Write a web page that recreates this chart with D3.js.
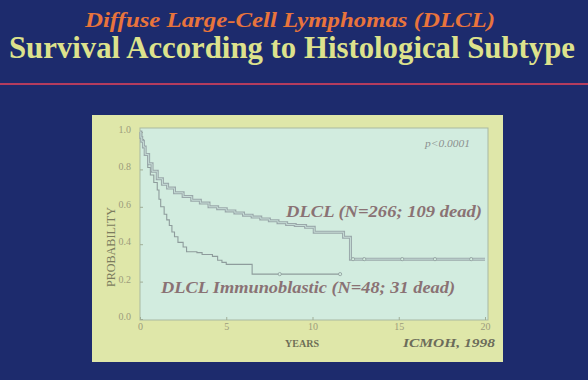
<!DOCTYPE html>
<html><head><meta charset="utf-8">
<script src="https://cdn.jsdelivr.net/npm/d3@7"></script>
<style>html,body{margin:0;padding:0;background:#1d2b6b;overflow:hidden}</style>
</head><body>
<script>
const titleTop = "Diffuse Large-Cell Lymphomas (DLCL)";
const titleMain = "Survival According to Histological Subtype";
const yTicks = [0, 0.2, 0.4, 0.6, 0.8, 1.0];
const xTicks = [0, 5, 10, 15, 20];
const dlclTime = [0, 0.05, 0.1, 0.2, 0.3, 0.5, 0.7, 1.0, 1.3, 1.6, 2.0, 2.5, 3.0, 3.5, 4.0, 4.5, 5.0, 5.5, 6.0, 6.5, 7.0, 7.5, 8.0, 8.5, 9.0, 9.6, 10.1, 11.8, 12.2, 20];
const dlclSurv = [1.0, 0.97, 0.95, 0.92, 0.88, 0.83, 0.79, 0.75, 0.72, 0.70, 0.675, 0.655, 0.635, 0.62, 0.60, 0.59, 0.578, 0.567, 0.555, 0.545, 0.535, 0.525, 0.515, 0.505, 0.50, 0.49, 0.464, 0.437, 0.32, 0.32];
const dlclCensor = [12.35, 13.0, 15.2, 17.1, 19.2];
const immTime = [0, 0.1, 0.2, 0.3, 0.45, 0.6, 0.8, 1.0, 1.1, 1.2, 1.4, 1.55, 1.7, 1.85, 2.0, 2.2, 2.5, 2.7, 3.3, 3.6, 4.2, 4.5, 4.75, 5.0, 6.5, 11.6];
const immSurv = [1.0, 0.96, 0.92, 0.875, 0.81, 0.77, 0.73, 0.69, 0.64, 0.60, 0.56, 0.53, 0.50, 0.465, 0.44, 0.41, 0.385, 0.36, 0.355, 0.345, 0.335, 0.314, 0.303, 0.292, 0.24, 0.24];
const immCensor = [8.1, 11.6];
const labelDLCL = "DLCL (N=266; 109 dead)";
const labelImm = "DLCL Immunoblastic (N=48; 31 dead)";
const pText = "p<0.0001";
const xTitle = "YEARS", yTitle = "PROBABILITY", source = "ICMOH, 1998";

const SERIF = "'Liberation Serif', 'DejaVu Serif', serif";
const W = 588, H = 380;
const svg = d3.select("body").append("svg").attr("width", W).attr("height", H);
svg.append("rect").attr("width", W).attr("height", H).attr("fill", "#1d2b6d");

// titles
svg.append("text").attr("x", 85).attr("y", 27).text(titleTop)
  .attr("font-family", SERIF).attr("font-style", "italic").attr("font-weight", "bold")
  .attr("font-size", 21).attr("fill", "#e8743c").attr("textLength", 410).attr("lengthAdjust", "spacingAndGlyphs");
svg.append("text").attr("x", 9).attr("y", 58).text(titleMain)
  .attr("font-family", SERIF).attr("font-weight", "bold")
  .attr("font-size", 31).attr("fill", "#dde28c").attr("textLength", 566).attr("lengthAdjust", "spacingAndGlyphs");
svg.append("line").attr("x1", 0).attr("x2", W).attr("y1", 84).attr("y2", 84)
  .attr("stroke", "#b43c5e").attr("stroke-width", 2);

// panel
svg.append("rect").attr("x", 92).attr("y", 115).attr("width", 411).attr("height", 247).attr("fill", "#dfe7a9");
svg.append("rect").attr("x", 140).attr("y", 128).attr("width", 348).attr("height", 192)
  .attr("fill", "#d2ecdf").attr("stroke", "#a9b9a2").attr("stroke-width", 1);

const x = d3.scaleLinear().domain([0, 20]).range([140, 485]);
const y = d3.scaleLinear().domain([0, 1]).range([319, 132]);

// axes
const gy = svg.append("g").attr("transform", "translate(140,0)")
  .call(d3.axisLeft(y).tickValues(yTicks).tickFormat(d3.format(".1f")).tickSize(-3).tickPadding(9));
const gx = svg.append("g").attr("transform", "translate(0,320)")
  .call(d3.axisBottom(x).tickValues(xTicks).tickSize(-3).tickPadding(3));
[gy, gx].forEach(g => {
  g.select(".domain").remove();
  g.selectAll("line").attr("stroke", "#a0ae98");
  g.selectAll("text").attr("font-family", SERIF).attr("font-size", 10).attr("fill", "#9c9c7c");
});
gy.selectAll("text").attr("dy", "0.05em");

svg.append("text").attr("x", 302).attr("y", 347).attr("text-anchor", "middle").text(xTitle)
  .attr("font-family", SERIF).attr("font-weight", "bold").attr("font-size", 10).attr("fill", "#6e6e56");
svg.append("text").attr("transform", "translate(115,247) rotate(-90)").attr("text-anchor", "middle").text(yTitle)
  .attr("font-family", SERIF).attr("font-size", 11.5).attr("fill", "#7c7c5e")
  .attr("textLength", 80).attr("lengthAdjust", "spacingAndGlyphs");
svg.append("text").attr("x", 403).attr("y", 347).text(source)
  .attr("font-family", SERIF).attr("font-style", "italic").attr("font-weight", "bold")
  .attr("font-size", 13).attr("fill", "#6c6c5a").attr("textLength", 92).attr("lengthAdjust", "spacingAndGlyphs");

// curves
const line = d3.line().x(d => x(d[0])).y(d => y(d[1])).curve(d3.curveStepAfter);
const dlcl = dlclTime.map((t, i) => [t, dlclSurv[i]]);
const imm = immTime.map((t, i) => [t, immSurv[i]]);
const stepAt = (data, t) => { let v = data[0][1]; data.forEach(d => { if (d[0] <= t) v = d[1]; }); return v; };

svg.append("path").attr("d", line(imm)).attr("fill", "none").attr("stroke", "#8e9c9c").attr("stroke-width", 1.1);
svg.append("path").attr("d", line(dlcl)).attr("fill", "none").attr("stroke", "#9aa8aa").attr("stroke-width", 3);
svg.append("path").attr("d", line(dlcl)).attr("fill", "none").attr("stroke", "#c6dcd6").attr("stroke-width", 1);

svg.selectAll(".cd").data(dlclCensor).enter().append("circle")
  .attr("cx", d => x(d)).attr("cy", d => y(stepAt(dlcl, d))).attr("r", 1.6)
  .attr("fill", "#d2ecdf").attr("stroke", "#8e9c9c").attr("stroke-width", 0.8);
svg.selectAll(".ci").data(immCensor).enter().append("circle")
  .attr("cx", d => x(d)).attr("cy", d => y(stepAt(imm, d))).attr("r", 1.6)
  .attr("fill", "#d2ecdf").attr("stroke", "#8e9c9c").attr("stroke-width", 0.8);

// labels
svg.append("text").attr("x", 286).attr("y", 217).text(labelDLCL)
  .attr("font-family", SERIF).attr("font-style", "italic").attr("font-weight", "bold")
  .attr("font-size", 17).attr("fill", "#8a7274").attr("textLength", 196).attr("lengthAdjust", "spacingAndGlyphs");
svg.append("text").attr("x", 161).attr("y", 293).text(labelImm)
  .attr("font-family", SERIF).attr("font-style", "italic").attr("font-weight", "bold")
  .attr("font-size", 17).attr("fill", "#8a7274").attr("textLength", 294).attr("lengthAdjust", "spacingAndGlyphs");
svg.append("text").attr("x", 425).attr("y", 147).text(pText)
  .attr("font-family", SERIF).attr("font-style", "italic")
  .attr("font-size", 10).attr("fill", "#8c9090").attr("textLength", 45).attr("lengthAdjust", "spacingAndGlyphs");
</script>
</body></html>
